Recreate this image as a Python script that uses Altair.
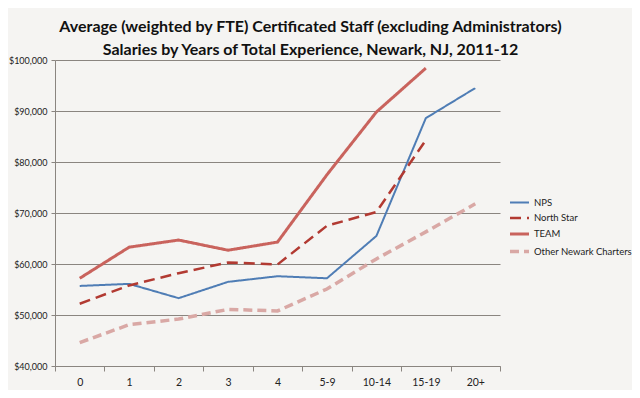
import altair as alt
import pandas as pd

categories = ["0", "1", "2", "3", "4", "5-9", "10-14", "15-19", "20+"]
series_names = ["NPS", "North Star", "TEAM", "Other Newark Charters"]

nps = [55700, 56100, 53300, 56500, 57600, 57200, 65500, 88600, 94500]
north_star = [52200, 55800, 58200, 60300, 59900, 67500, 70200, 84300, None]
team = [57200, 63300, 64700, 62700, 64300, 77500, 89800, 98400, None]
other = [44600, 48100, 49200, 51100, 50800, 55100, 61000, 66300, 71800]

colors = ["#4f7db5", "#b23a32", "#c9635d", "#d9a8a5"]
dashes = [[1, 0], [11, 6], [1, 0], [9, 5]]
widths = [2, 3.5, 3, 4]

rows = []
for name, vals in zip(series_names, [nps, north_star, team, other]):
    for c, v in zip(categories, vals):
        if v is not None:
            rows.append({"exp": c, "salary": v, "series": name})
df = pd.DataFrame(rows)

legend = alt.Legend(
    title=None, orient="none", legendX=453, legendY=132,
    symbolType="stroke", symbolSize=361, labelFontSize=9.5,
    labelFont="Lato", labelColor="#222", rowPadding=-3, labelOffset=3,
)

chart = alt.Chart(df).mark_line().encode(
    x=alt.X("exp:O", sort=categories, bandPosition=0.5,
            scale=alt.Scale(type="band", paddingInner=0, paddingOuter=0),
            axis=alt.Axis(title=None, labelAngle=0, tickBand="extent", grid=False,
                          labelFontSize=10.5, labelFont="Lato", labelColor="#222",
                          domainColor="#8a8580", tickColor="#8a8580", tickSize=5,
                          labelPadding=6)),
    y=alt.Y("salary:Q", scale=alt.Scale(domain=[40000, 100000], nice=False),
            axis=alt.Axis(title=None, format="$,.0f", labelOverlap=False,
                          values=[40000, 50000, 60000, 70000, 80000, 90000, 100000],
                          labelFontSize=9, labelFont="Lato", labelColor="#222",
                          gridColor="#8a8580", gridWidth=1, domainColor="#8a8580",
                          tickColor="#8a8580", tickSize=4, labelPadding=4)),
    color=alt.Color("series:N", scale=alt.Scale(domain=series_names, range=colors), legend=legend),
    strokeDash=alt.StrokeDash("series:N", scale=alt.Scale(domain=series_names, range=dashes), legend=legend),
    strokeWidth=alt.StrokeWidth("series:N", scale=alt.Scale(domain=series_names, range=widths), legend=legend),
    order=alt.Order("exp_idx:Q"),
).transform_calculate(
    exp_idx="indexof(['0','1','2','3','4','5-9','10-14','15-19','20+'], datum.exp)"
).properties(
    width=445, height=306,
    title=alt.TitleParams(
        ["Average (weighted by FTE) Certificated Staff (excluding Administrators)",
         "Salaries by Years of Total Experience, Newark, NJ, 2011-12"],
        font="Lato", fontSize=16, fontWeight="bold", color="#111",
        anchor="middle", dx=33, offset=-2, lineHeight=23,
    ),
    autosize=alt.AutoSizeParams(type="none"),
    padding={"left": 47, "top": 52, "right": 132, "bottom": 24},
).configure(background="#f5f4f2").configure_view(stroke=None)

chart.save("out.html", embed_options={"renderer": "svg", "actions": False})
